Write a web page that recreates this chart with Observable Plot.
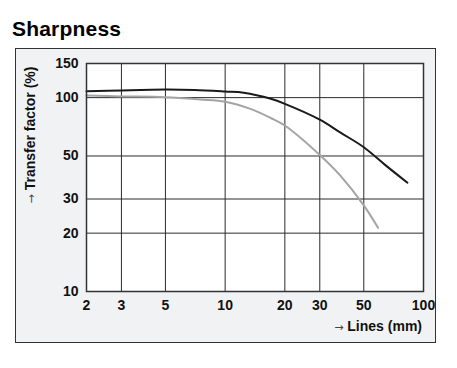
<!DOCTYPE html>
<html>
<head>
<meta charset="utf-8">
<script src="https://cdn.jsdelivr.net/npm/d3@7"></script>
<script src="https://cdn.jsdelivr.net/npm/@observablehq/plot@0.6"></script>
<style>
  html, body { margin: 0; padding: 0; background: #ffffff; }
  #wrap { position: relative; width: 457px; height: 368px; font-family: "Liberation Sans", Arial, sans-serif; }
  #panel { position: absolute; left: 15px; top: 48px; width: 419px; height: 293px; background: #f1f2f4; border: 1.5px solid #333; }
  #title { position: absolute; left: 12px; top: 18.5px; font-size: 21px; line-height: 20px; font-weight: bold; color: #000; letter-spacing: 0.2px; }
  #xlabel { position: absolute; right: 35px; top: 318.7px; font-size: 14px; line-height: 14px; font-weight: bold; color: #111; white-space: nowrap; }
  #ylabel { position: absolute; left: 31px; top: 135px; transform: translate(-50%, -50%) rotate(-90deg); font-size: 14px; line-height: 14px; font-weight: bold; color: #111; white-space: nowrap; }
  .arr { font-family: "DejaVu Sans", sans-serif; font-weight: normal; color: #444; font-size: 11px; }
  #chart { position: absolute; left: 0; top: 0; }
</style>
</head>
<body>
<div id="wrap">
  <div id="panel"></div>
  <div id="chart"></div>
  <div id="title">Sharpness</div>
  <div id="ylabel"><span class="arr">→</span> Transfer factor (%)</div>
  <div id="xlabel"><span class="arr">→</span> Lines (mm)</div>
</div>
<script>
const xTicks = [2, 3, 5, 10, 20, 30, 50, 100];
const yTicks = [10, 20, 30, 50, 100, 150];
const xGrid = [3, 5, 10, 20, 30, 50];
const yGrid = [20, 30, 50, 100];

const blackLines = [2, 3, 5, 7, 10, 12.4, 17, 20, 30, 38, 50, 64, 83];
const blackValues = [107.9, 109, 110, 109.5, 107.5, 106, 98.6, 92.9, 77, 66.2, 55.5, 45, 36.4];

const grayLines = [2, 3, 5, 7.5, 10, 13.4, 17, 20, 30, 38, 50, 59];
const grayValues = [102.5, 101.5, 100.5, 97.8, 95.3, 87.5, 78.5, 71.8, 50.6, 39.7, 27.8, 21.3];

const black = blackLines.map((x, i) => ({x, y: blackValues[i]}));
const gray = grayLines.map((x, i) => ({x, y: grayValues[i]}));

const plot = Plot.plot({
  width: 457,
  height: 368,
  marginLeft: 86,
  marginRight: 34,
  marginTop: 63,
  marginBottom: 77,
  style: {
    background: "transparent",
    fontFamily: "'Liberation Sans', Arial, sans-serif",
    fontSize: "14px",
    fontWeight: "bold",
    color: "#111"
  },
  x: {type: "log", domain: [2, 100], ticks: xTicks, tickFormat: d => String(d), tickSize: 0, tickPadding: 9, label: null},
  y: {type: "log", domain: [10, 150], ticks: yTicks, tickFormat: d => String(d), tickSize: 0, tickPadding: 8, label: null},
  marks: [
    Plot.frame({fill: "white"}),
    Plot.ruleX(xGrid, {stroke: "#2b2b2b", strokeWidth: 1}),
    Plot.ruleY(yGrid, {stroke: "#2b2b2b", strokeWidth: 1}),
    Plot.line(gray, {x: "x", y: "y", stroke: "#a4a4a4", strokeWidth: 2, curve: "catmull-rom"}),
    Plot.line(black, {x: "x", y: "y", stroke: "#1a1a1a", strokeWidth: 2, curve: "catmull-rom"}),
    Plot.frame({stroke: "#333", strokeWidth: 1.5})
  ]
});
document.getElementById("chart").appendChild(plot);
</script>
</body>
</html>
